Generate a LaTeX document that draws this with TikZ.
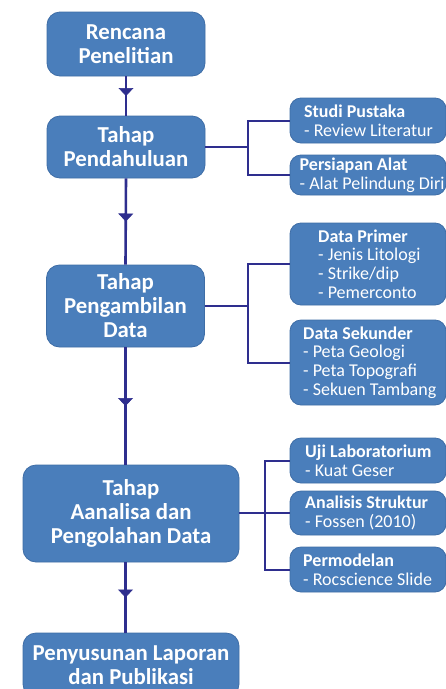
\documentclass[tikz,border=0pt]{standalone}
\usepackage{fontspec}
\setmainfont{Carlito}
\usetikzlibrary{arrows.meta,decorations.markings}
\definecolor{boxfill}{HTML}{4A7EBB}
\definecolor{boxedge}{HTML}{3E6DA6}
\definecolor{linec}{HTML}{2E2E8E}
\tikzset{
  mainbox/.style={draw=boxedge, line width=0.8pt, fill=boxfill, rounded corners=13pt,
    text=white, align=center, inner sep=0pt,
    font=\fontsize{22.8}{24}\selectfont\bfseries},
  subbox/.style={draw=boxedge, line width=0.8pt, fill=boxfill, rounded corners=11pt,
    minimum width=156pt, inner sep=0pt},
  subtext/.style={text=white, align=left, anchor=west, inner sep=0pt,
    font=\fontsize{18}{18.6}\selectfont},
  flow/.style={draw=linec, line width=2.6pt,
    postaction={decorate},
    decoration={markings, mark=at position 0.5 with {\arrow[line width=0.6pt]{Triangle[width=15pt,length=8pt]}}}},
  branch/.style={draw=linec, line width=2pt}
}
\begin{document}
\begin{tikzpicture}[x=1pt,y=-1pt]
\useasboundingbox (0,0) rectangle (446,689);
\fill[white] (0,0) rectangle (446,689);
% main boxes
\node[mainbox, minimum width=158pt, minimum height=64pt] (b1) at (126,44) {Rencana\\Penelitian};
\node[mainbox, minimum width=158pt, minimum height=62pt] (b2) at (126,147) {Tahap\\Pendahuluan};
\node[mainbox, minimum width=158pt, minimum height=82pt] (b3) at (125.5,306) {Tahap\\Pengambilan\\Data};
\node[mainbox, minimum width=216pt, minimum height=97pt] (b4) at (131,513.5) {Tahap\\Aanalisa dan\\Pengolahan Data};
\node[mainbox, minimum width=216pt, minimum height=64pt] (b5) at (131,665) {Penyusunan Laporan\\dan Publikasi};
% sub boxes
\node[subbox, minimum height=45pt] (s1) at (368,120.5) {};
\node[subbox, minimum height=40pt] (s2) at (368,175) {};
\node[subbox, minimum height=82pt] (s3) at (368,264) {};
\node[subbox, minimum height=85pt] (s4) at (368,362.5) {};
\node[subbox, minimum height=45pt] (s5) at (368,460.5) {};
\node[subbox, minimum height=44pt] (s6) at (368,513) {};
\node[subbox, minimum height=45pt] (s7) at (368,569.5) {};
% sub texts
\node[subtext] (t1) at (304,120.5) {\textbf{Studi Pustaka}\\- Review Literatur};
\node[subtext] (t2) at (299.5,175) {\textbf{Persiapan Alat}\\- Alat Pelindung Diri};
\node[subtext] (t3) at (318,264) {\textbf{Data Primer}\\- Jenis Litologi\\- Strike/dip\\- Pemerconto};
\node[subtext] (t4) at (303,362.5) {\textbf{Data Sekunder}\\- Peta Geologi\\- Peta Topografi\\- Sekuen Tambang};
\node[subtext] (t5) at (305,460.5) {\textbf{Uji Laboratorium}\\- Kuat Geser};
\node[subtext] (t6) at (305,513) {\textbf{Analisis Struktur}\\- Fossen (2010)};
\node[subtext] (t7) at (303,569.5) {\textbf{Permodelan}\\- Rocscience Slide};
% junction coordinates
\coordinate (j2) at (248,147);
\coordinate (j3) at (248,306);
\coordinate (j4) at (265,513);
% main flow
\draw[flow] (b1.south) -- (b2.north);
\draw[flow] (b2.south) -- (b3.north);
\draw[flow] (b3.south) -- (b3.south |- b4.north);
\draw[flow] (b4.south -| b3.south) -- (b5.north -| b3.south);
% branches
\draw[branch] (b2.east |- j2) -- (j2);
\draw[branch] (s1.west) -| (j2) |- (s2.west);
\draw[branch] (b3.east |- j3) -- (j3);
\draw[branch] (s3.west) -| (j3) |- (s4.west);
\draw[branch] (b4.east |- j4) -- (s6.west);
\draw[branch] (s5.west) -| (j4) |- (s7.west);
\end{tikzpicture}
\end{document}
